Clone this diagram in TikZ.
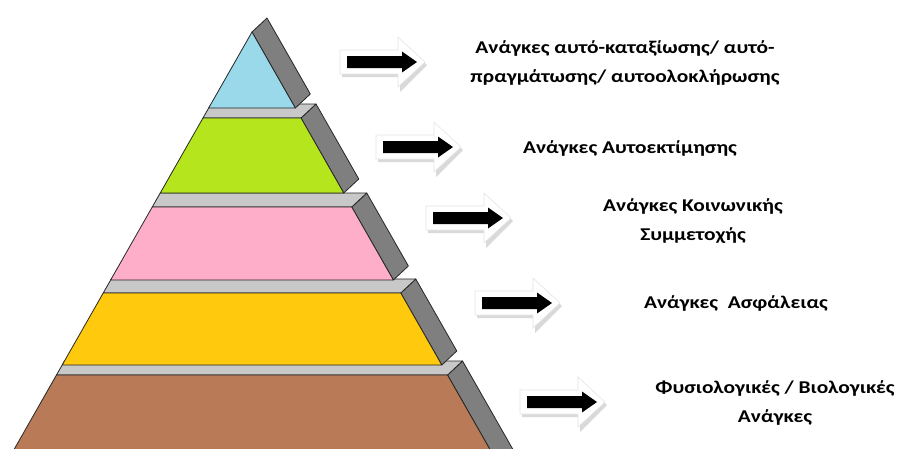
\documentclass[tikz,border=0pt]{standalone}
\usepackage{fontspec}
\setmainfont{Carlito}[FakeStretch=1.19]
\definecolor{tierblue}{HTML}{99D9EA}
\definecolor{tiergreen}{HTML}{B5E61D}
\definecolor{tierpink}{HTML}{FFAEC9}
\definecolor{tieryellow}{HTML}{FFC90E}
\definecolor{tierbrown}{HTML}{B97A57}
\definecolor{sidegray}{HTML}{7F7F7F}
\definecolor{topgray}{HTML}{C8C8C8}
\tikzset{
  edge/.style={draw=black!85, line width=0.8pt, line join=round},
  txt/.style={font=\fontsize{18}{29}\selectfont\bfseries, align=center, inner sep=0pt, anchor=base},
  blockarr/.pic={
    \fill[gray!30] (-5,-10) -- (53,-10) -- (53,-22) -- (80,3) -- (53,30) -- (53,15) -- (-5,15) -- cycle;
    \filldraw[fill=white, draw=gray!20, line width=0.6pt] (-7,-12) -- (51,-12) -- (51,-25) -- (78,0) -- (51,25) -- (51,12) -- (-7,12) -- cycle;
    \fill[black] (0,-6) -- (55,-6) -- (55,-10.5) -- (70,0) -- (55,10.5) -- (55,6) -- (0,6) -- cycle;
  }
}
\newcommand\pyrtier[3]{%
  \pgfmathsetmacro\xlt{252-0.57*(#1-32)}%
  \pgfmathsetmacro\xrt{252+0.57*(#1-32)}%
  \pgfmathsetmacro\xlb{252-0.57*(#2-32)}%
  \pgfmathsetmacro\xrb{252+0.57*(#2-32)}%
  \pgfmathsetmacro\xlback{252-0.57*(#1-46)}%
  \filldraw[edge, fill=sidegray] (\xrt,#1) -- ++(15,-14) -- ({\xrb+15},{#2-14}) -- (\xrb,#2) -- cycle;
  \filldraw[edge, fill=topgray] (\xlt,#1) -- (\xrt,#1) -- ++(15,-14) -- (\xlback,{#1-14}) -- cycle;
  \filldraw[edge, fill=#3] (\xlt,#1) -- (\xrt,#1) -- (\xrb,#2) -- (\xlb,#2) -- cycle;
}
\begin{document}
\begin{tikzpicture}[x=1pt,y=-1pt]
\useasboundingbox (0,0) rectangle (903,448);
\clip (0,0) rectangle (903,448);
\fill[white] (0,0) rectangle (903,448);
% pyramid, bottom tier first
\pyrtier{375}{470}{tierbrown}
\pyrtier{293}{365}{tieryellow}
\pyrtier{207}{280}{tierpink}
\pyrtier{118}{193}{tiergreen}
% top triangle
\pgfmathsetmacro\xlb{252-0.57*(108-32)}
\pgfmathsetmacro\xrb{252+0.57*(108-32)}
\coordinate (apex) at (252,32);
\filldraw[edge, fill=sidegray] (apex) -- ++(15,-14) -- ({\xrb+15},94) -- (\xrb,108) -- cycle;
\filldraw[edge, fill=tierblue] (apex) -- (\xrb,108) -- (\xlb,108) -- cycle;
% arrows
\pic at (347,62) {blockarr};
\pic at (383,147) {blockarr};
\pic at (433,218) {blockarr};
\pic at (482,303) {blockarr};
\pic at (527,402) {blockarr};
% labels (anchor = baseline of the last line)
\node[txt] (t1) at (625,82) {Ανάγκες αυτό-καταξίωσης/ αυτό-\\πραγμάτωσης/ αυτοολοκλήρωσης};
\node[txt] (t2) at (630,153) {Ανάγκες Αυτοεκτίμησης};
\node[txt] (t3) at (693,240) {Ανάγκες Κοινωνικής\\Συμμετοχής};
\node[txt] (t4) at (736,308) {Ανάγκες~~Ασφάλειας};
\node[txt] (t5) at (775,422) {Φυσιολογικές / Βιολογικές\\Ανάγκες};
\end{tikzpicture}
\end{document}
